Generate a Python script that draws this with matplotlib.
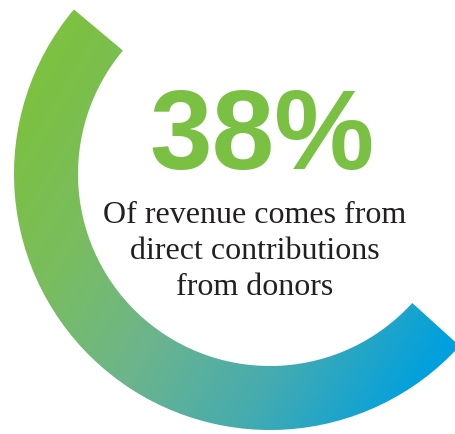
import numpy as np
import matplotlib.pyplot as plt
from matplotlib.patches import Wedge
from matplotlib.colors import LinearSegmentedColormap

# headline figure
share_pct = 38
caption_lines = ["Of revenue comes from", "direct contributions", "from donors"]

# ring gradient stops (position, colour)
grad_stops = [(0.0, "#7cc142"), (0.22, "#79bd5f"), (0.45, "#6db58b"),
              (0.72, "#45abb0"), (1.0, "#00a0df")]

W, H = 455, 435
fig = plt.figure(figsize=(W / 100, H / 100), dpi=100)
ax = fig.add_axes([0, 0, 1, 1])
ax.set_xlim(0, W)
ax.set_ylim(H, 0)
ax.axis("off")

# ring geometry in pixel coords (y down)
cx, cy = 270, 175
r_out, r_in = 256, 192
ring = Wedge((cx, cy), r_out, 42.2, 220, width=r_out - r_in,
             transform=ax.transData, facecolor="none", edgecolor="none")
ax.add_patch(ring)

# linear gradient running down-right
xs, ys = np.meshgrid(np.arange(W) + 0.5, np.arange(H) + 0.5)
ang = np.deg2rad(30)
proj = xs * np.cos(ang) + ys * np.sin(ang)
t = np.clip((proj - 80) / (560 - 80), 0, 1)
cmap = LinearSegmentedColormap.from_list("ring", grad_stops)
img = ax.imshow(t, cmap=cmap, vmin=0, vmax=1, extent=(0, W, H, 0),
                origin="upper", interpolation="bilinear")
img.set_clip_path(ring)

ax.text(262, 169, f"{share_pct}%", ha="center", va="baseline",
        fontsize=81, fontweight="bold", family="Liberation Sans", color="#7ac143")

for i, line in enumerate(caption_lines):
    ax.text(255, 223 + 36 * i, line, ha="center", va="baseline",
            fontsize=23, family="Liberation Serif", color="#231f20")

fig.savefig("out.png", dpi=100, facecolor="white")
